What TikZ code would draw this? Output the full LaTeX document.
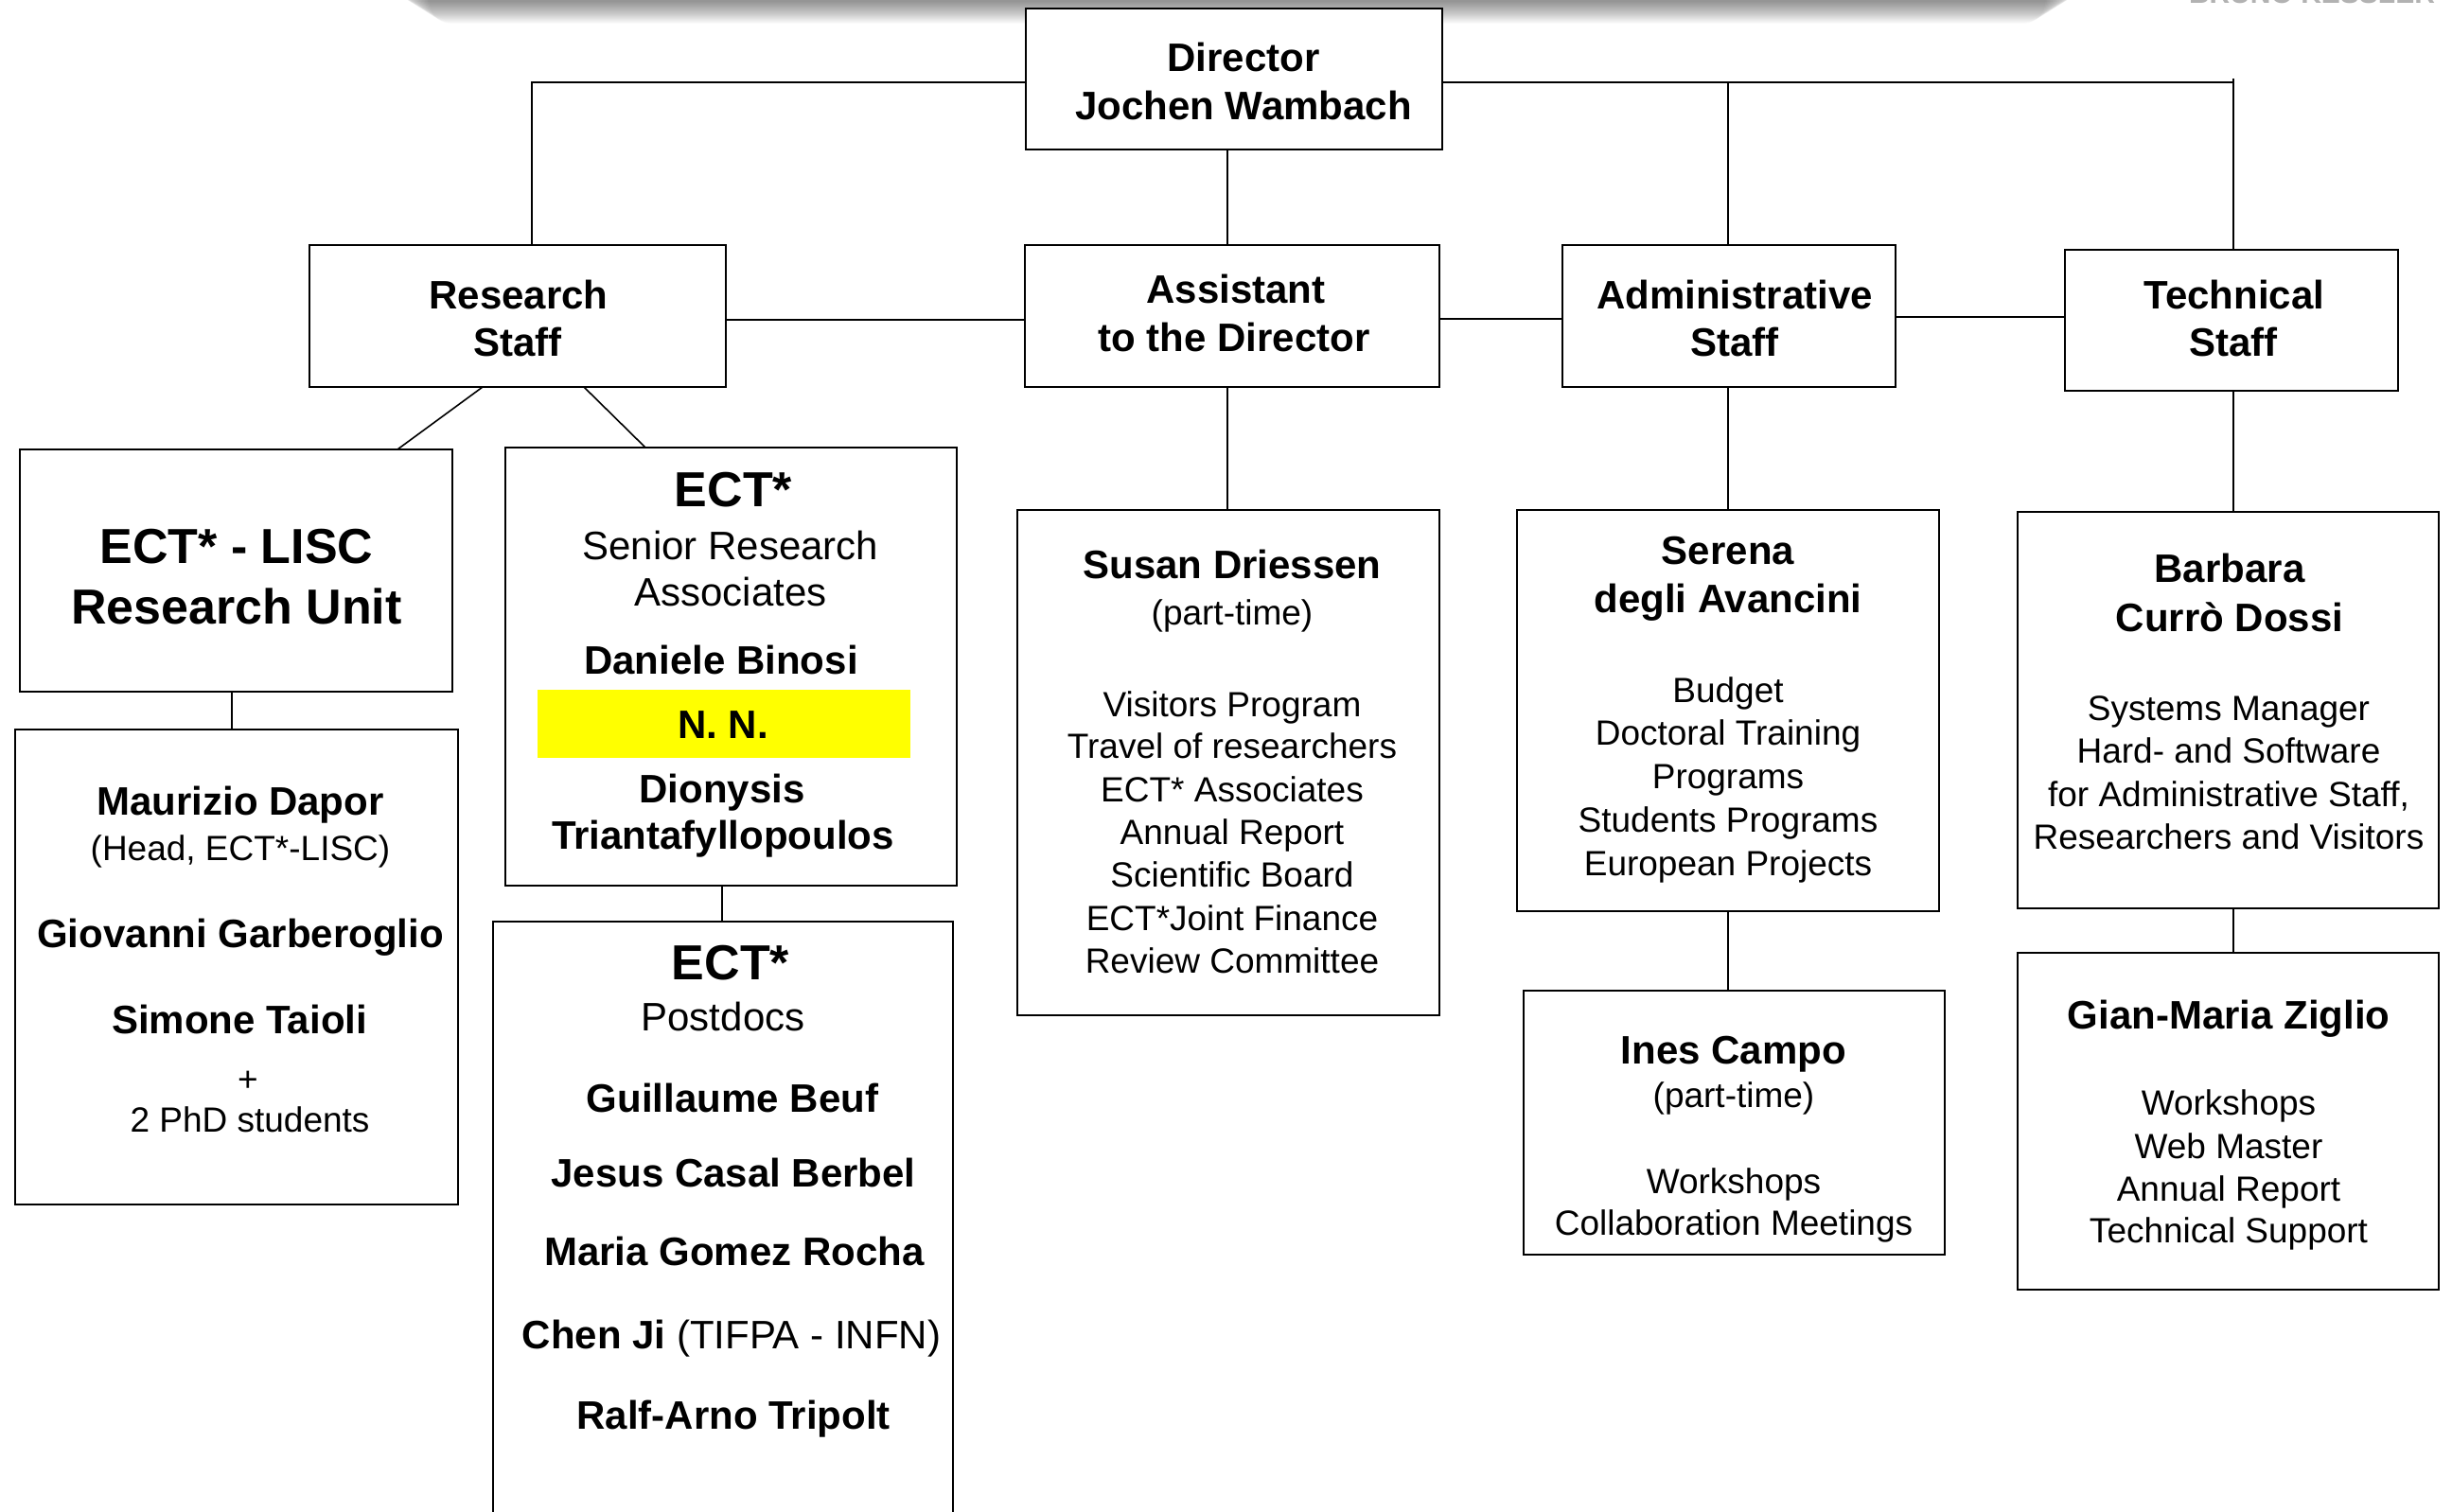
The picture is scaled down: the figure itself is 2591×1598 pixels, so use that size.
\documentclass[tikz,border=0pt]{standalone}
\usepackage{fontspec}
\setmainfont{Liberation Sans}
\usetikzlibrary{calc}
\begin{document}
\begin{tikzpicture}[x=0.5pt,y=-0.5pt,
  box/.style={draw,line width=1.2pt,inner sep=0pt,outer sep=0pt,fill=white},
  hilite/.style={fill={rgb,255:red,255;green,255;blue,0},inner sep=0pt,outer sep=0pt},
  conn/.style={line width=0.8pt},
  bh/.style={font=\fontsize{21}{25}\selectfont\bfseries,inner sep=0pt,anchor=base},
  bbig/.style={font=\fontsize{26}{31}\selectfont\bfseries,inner sep=0pt,anchor=base},
  rg/.style={font=\fontsize{18.5}{22}\selectfont,inner sep=0pt,anchor=base},
  rgl/.style={font=\fontsize{21}{25}\selectfont,inner sep=0pt,anchor=base},
  banner/.style={font=\fontsize{15}{18}\selectfont\bfseries,text=black!30,inner sep=0pt,anchor=base}]
\useasboundingbox (0,0) rectangle (2591,1598);
\fill[white] (0,0) rectangle (2591,1598);
% soft shadow of the slide above
\foreach \i in {1,...,24} {
  \fill[black,opacity=0.02,rounded corners=12pt] (455-\i*1.6,-60) rectangle (2160+\i*1.6,26-\i);
}
\node[banner] (bk) at (2443,4) {BRUNO KESSLER};

% boxes
\node[box,minimum width=220pt,minimum height=74.5pt] (dir) at (1304,83.5) {};
\node[box,minimum width=220pt,minimum height=75pt] (rs) at (547,334) {};
\node[box,minimum width=219pt,minimum height=75pt] (asst) at (1302,334) {};
\node[box,minimum width=176pt,minimum height=75pt] (adm) at (1827,334) {};
\node[box,minimum width=176pt,minimum height=74.5pt] (tech) at (2358,338.5) {};
\node[box,minimum width=228.5pt,minimum height=128pt] (lisc) at (249.5,603) {};
\node[box,minimum width=238.5pt,minimum height=231.5pt] (sen) at (772.5,704.5) {};
\node[hilite,minimum width=197pt,minimum height=36pt] (yel) at (765,765) {};
\node[box,minimum width=234pt,minimum height=251pt] (mau) at (250,1022) {};
\node[box,minimum width=243pt,minimum height=343pt] (pd) at (764,1317) {};
\node[box,minimum width=223pt,minimum height=267pt] (sus) at (1298,806) {};
\node[box,minimum width=223pt,minimum height=212pt] (ser) at (1826,751) {};
\node[box,minimum width=222.5pt,minimum height=209.5pt] (bar) at (2354.5,750.5) {};
\node[box,minimum width=222.5pt,minimum height=139.5pt] (ines) at (1832.5,1186.5) {};
\node[box,minimum width=222.5pt,minimum height=178pt] (gian) at (2354.5,1185) {};

% helper coordinates for connector positions
\coordinate (jL) at (562,87);
\coordinate (jR) at (2360,87);
\coordinate (xA) at (1297,0);
\coordinate (xAd) at (1826,0);
\coordinate (xT) at (2360,0);
\coordinate (xL) at (245,0);
\coordinate (xS) at (763,0);
\coordinate (yRA) at (0,338);
\coordinate (yAA) at (0,337);
\coordinate (yAT) at (0,335);
\coordinate (d1) at (510,0);
\coordinate (d2) at (420,0);
\coordinate (d3) at (617,0);
\coordinate (d4) at (682,0);

% connectors
\draw[conn] (dir.west |- jL) -- (jL) -- (jL |- rs.north);
\draw[conn] (dir.east |- jR) -- (jR);
\draw[conn] (jR -| xAd) -- (adm.north -| xAd);
\draw[conn] (dir.west -| xT) -- (tech.north -| xT);
\draw[conn] (dir.south -| xA) -- (asst.north -| xA);
\draw[conn] (rs.east |- yRA) -- (asst.west |- yRA);
\draw[conn] (asst.east |- yAA) -- (adm.west |- yAA);
\draw[conn] (adm.east |- yAT) -- (tech.west |- yAT);
\draw[conn] (rs.south -| d1) -- (lisc.north -| d2);
\draw[conn] (rs.south -| d3) -- (sen.north -| d4);
\draw[conn] (lisc.south -| xL) -- (mau.north -| xL);
\draw[conn] (sen.south -| xS) -- (pd.north -| xS);
\draw[conn] (asst.south -| xA) -- (sus.north -| xA);
\draw[conn] (adm.south -| xAd) -- (ser.north -| xAd);
\draw[conn] (tech.south -| xT) -- (bar.north -| xT);
\draw[conn] (ser.south -| xAd) -- (ines.north -| xAd);
\draw[conn] (bar.south -| xT) -- (gian.north -| xT);

% texts: top row
\node[bh] (dir1) at (1314,76) {Director};
\node[bh] (dir2) at (1314,127) {Jochen Wambach};
\node[bh] (rs1) at (548,327) {Research};
\node[bh] (rs2) at (547,377) {Staff};
\node[bh] (as1) at (1306,321) {Assistant};
\node[bh] (as2) at (1304,372) {to the Director};
\node[bh] (ad1) at (1833,327) {Administrative};
\node[bh] (ad2) at (1833,377) {Staff};
\node[bh] (te1) at (2361,327) {Technical};
\node[bh] (te2) at (2360,377) {Staff};

% LISC
\node[bbig] (li1) at (250,596) {ECT* - LISC};
\node[bbig] (li2) at (250,660) {Research Unit};

% Senior research associates
\node[bbig] (se1) at (775,536) {ECT*};
\node[rgl] (se2) at (772,592) {Senior Research};
\node[rgl] (se3) at (772,641) {Associates};
\node[bh] (se4) at (762,712) {Daniele Binosi};
\node[bh] (se5) at (764,780) {N. N.};
\node[bh] (se6) at (763,848) {Dionysis};
\node[bh] (se7) at (764,897) {Triantafyllopoulos};

% Maurizio box
\node[bh] (ma1) at (254,861) {Maurizio Dapor};
\node[rg] (ma2) at (254,909) {(Head, ECT*-LISC)};
\node[bh] (ma3) at (254,1001) {Giovanni Garberoglio};
\node[bh] (ma4) at (253,1092) {Simone Taioli};
\node[rg] (ma5) at (262,1153) {+};
\node[rg] (ma6) at (264,1196) {2 PhD students};

% Postdocs
\node[bbig] (pd1) at (772,1035) {ECT*};
\node[rgl] (pd2) at (764,1089) {Postdocs};
\node[bh] (pd3) at (774,1175) {Guillaume Beuf};
\node[bh] (pd4) at (775,1254) {Jesus Casal Berbel};
\node[bh] (pd5) at (776,1337) {Maria Gomez Rocha};
\node[bh] (pd6) at (773,1425) {Chen Ji \mdseries(TIFPA - INFN)};
\node[bh] (pd7) at (775,1510) {Ralf-Arno Tripolt};

% Susan
\node[bh] (su1) at (1302,612) {Susan Driessen};
\node[rg] (su2) at (1302,661) {(part-time)};
\node[rg] (su3) at (1302,757) {Visitors Program};
\node[rg] (su4) at (1302,801) {Travel of researchers};
\node[rg] (su5) at (1302,847) {ECT* Associates};
\node[rg] (su6) at (1302,892) {Annual Report};
\node[rg] (su7) at (1302,937) {Scientific Board};
\node[rg] (su8) at (1302,983) {ECT*Joint Finance};
\node[rg] (su9) at (1302,1028) {Review Committee};

% Serena
\node[bh] (sr1) at (1826,597) {Serena};
\node[bh] (sr2) at (1826,648) {degli Avancini};
\node[rg] (sr3) at (1826,743) {Budget};
\node[rg] (sr4) at (1826,788) {Doctoral Training};
\node[rg] (sr5) at (1826,834) {Programs};
\node[rg] (sr6) at (1826,879) {Students Programs};
\node[rg] (sr7) at (1826,925) {European Projects};

% Barbara
\node[bh] (ba1) at (2356,616) {Barbara};
\node[bh] (ba2) at (2356,668) {Currò Dossi};
\node[rg] (ba3) at (2355,762) {Systems Manager};
\node[rg] (ba4) at (2355,806) {Hard- and Software};
\node[rg] (ba5) at (2355,852) {for Administrative Staff,};
\node[rg] (ba6) at (2355,897) {Researchers and Visitors};

% Ines
\node[bh] (in1) at (1832,1124) {Ines Campo};
\node[rg] (in2) at (1832,1170) {(part-time)};
\node[rg] (in3) at (1832,1261) {Workshops};
\node[rg] (in4) at (1832,1305) {Collaboration Meetings};

% Gian-Maria
\node[bh] (gi1) at (2355,1087) {Gian-Maria Ziglio};
\node[rg] (gi2) at (2355,1178) {Workshops};
\node[rg] (gi3) at (2355,1224) {Web Master};
\node[rg] (gi4) at (2355,1269) {Annual Report};
\node[rg] (gi5) at (2355,1313) {Technical Support};
\end{tikzpicture}
\end{document}
